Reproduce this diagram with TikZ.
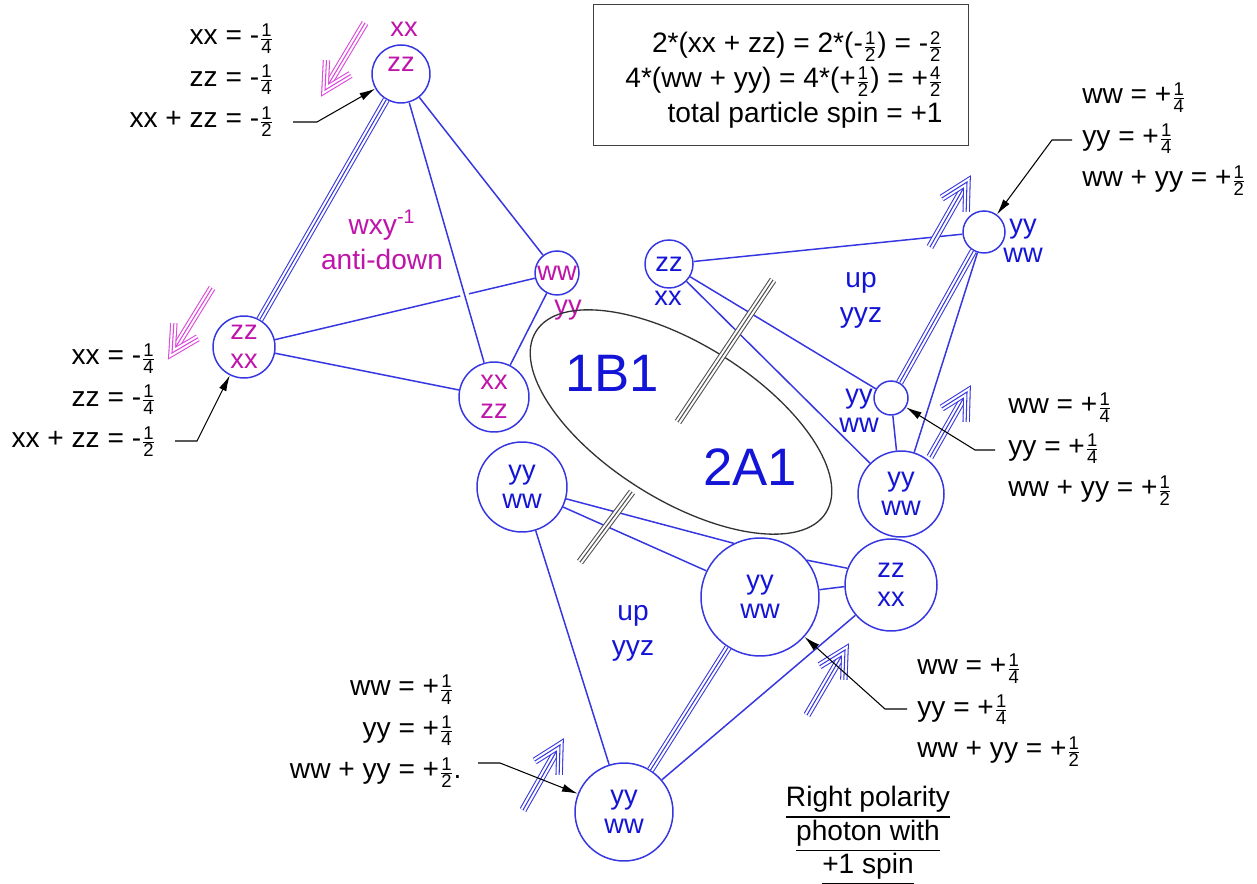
\documentclass[tikz,border=0pt]{standalone}
\usepackage{fontspec}
\setmainfont{Liberation Sans}
\usepackage{amsmath}
\usetikzlibrary{arrows.meta,positioning,calc}

\definecolor{lineblue}{RGB}{55,55,225}
\definecolor{textblue}{RGB}{20,20,215}
\definecolor{magtext}{RGB}{190,20,170}
\definecolor{magarrow}{RGB}{220,70,220}
\definecolor{hatchgray}{RGB}{80,80,80}

\newcommand{\lblfont}{\fontsize{16}{23.5}\selectfont}
\newcommand{\boxfont}{\fontsize{16}{20}\selectfont}
\newcommand{\ringfont}{\fontsize{15.5}{16.5}\selectfont}
\newcommand{\regionfont}{\fontsize{16}{20}\selectfont}
\newcommand{\bigtxtfont}{\fontsize{30}{32}\selectfont}
\newcommand{\fracfont}{\fontsize{10.5}{10.5}\selectfont}
\newcommand{\fr}[2]{{\fontsize{12}{12}\selectfont$\frac{\mbox{\fracfont#1}}{\mbox{\fracfont#2}}$}}

% 三线空心箭头
\newcommand{\spinarrow}[3]{%
  \draw[tri=#1] (#2) -- (#3);
  \draw[tri=#1, line join=miter] ($(#3)!17pt!28:(#2)$) -- (#3) -- ($(#3)!17pt!-28:(#2)$);
}

\begin{document}
\begin{tikzpicture}[
    x=0.02cm, y=-0.02cm,
    >=Stealth,
    every node/.style={font=\lblfont},
    ring/.style={circle, draw=lineblue, line width=0.85pt, inner sep=0pt, align=center, font=\ringfont},
    magtxt/.style={text=magtext, font=\ringfont, align=center, inner sep=0pt},
    bluetxt/.style={text=textblue, font=\ringfont, align=center, inner sep=0pt},
    bigtxt/.style={text=textblue, font=\bigtxtfont, inner sep=0pt},
    lbl/.style={font=\lblfont, inner sep=0pt},
    link/.style={draw=lineblue, line width=0.85pt},
    tri/.style={line width=0.6pt, draw=#1, preaction={draw=#1, line width=4.2pt}, preaction={draw=white, line width=3pt}},
    tri/.default=lineblue,
    callout/.style={draw=black, line width=0.6pt, -{Latex[length=9pt, width=4.5pt]}}
]
\useasboundingbox (0,0) rectangle (1257,884);

% 洋红三角
\node[ring, minimum size=1.16cm] (A) at (401,74) {};
\node[magtxt] (Atop) at (404,29) {xx};
\node[magtxt] (Ain) at (401,64) {zz};
\node[ring, minimum size=1.24cm, text=magtext] (B) at (244,347) {zz\\xx};
\node[ring, minimum size=0.88cm, text=magtext] (C) at (557,273) {ww};
\node[magtxt] (Cbot) at (568,310) {yy};
\node[ring, minimum size=1.40cm, text=magtext] (D) at (494,397) {xx\\zz};
\node[magtxt, font=\regionfont] (wxy) at (382,240) {wxy\textsuperscript{-1}\\anti-down};

% 蓝色两组
\node[ring, minimum size=0.96cm, text=textblue] (E) at (669,264) {zz};
\node[bluetxt] (Ebot) at (668,298) {xx};
\node[ring, minimum size=0.84cm] (F) at (984,232) {};
\node[bluetxt] (Fside) at (1023,241) {yy\\ww};
\node[ring, minimum size=0.68cm] (G) at (891,398) {};
\node[bluetxt] (Gside) at (859,411) {yy\\ww};
\node[ring, minimum size=1.72cm, text=textblue] (H) at (901,494) {yy\\ww};
\node[ring, minimum size=1.84cm, text=textblue] (I) at (891,585) {zz\\xx};
\node[ring, minimum size=2.36cm, text=textblue] (J) at (760,597) {yy\\ww};
\node[ring, minimum size=1.80cm, text=textblue] (K) at (522,487) {yy\\ww};
\node[ring, minimum size=1.96cm, text=textblue] (L) at (624,812) {yy\\ww};
\node[bluetxt, font=\regionfont] (up1) at (861,300) {up\\yyz};
\node[bluetxt, font=\regionfont] (up2) at (633,633) {up\\yyz};

% 中间椭圆
\coordinate (ell) at (681,422);
\draw[black!80, line width=0.75pt, rotate around={-32:(ell)}] (ell) ellipse [x radius=3.42cm, y radius=1.56cm];
\node[bigtxt] (n1B1) at (612,373) {1B1};
\node[bigtxt] (n2A1) at (750,467) {2A1};

% 连线
\draw[link] (B) -- (C);
\draw[link, preaction={draw=white, line width=5pt}] (A) -- (D);
\draw[link] (A) -- (C);
\draw[link] (B) -- (D);
\draw[link] (C) -- (D);
\draw[tri] (A) -- (B);

\draw[link] (E) -- (F);
\draw[link] (E) -- (G);
\draw[link] (E) -- (H);
\draw[link] (G) -- (H);
\draw[link] (F) -- (H);
\draw[tri] (F) -- (G);

\draw[link] (K.-15) -- (J.116);
\draw[link] (K.-26) -- (J.154);
\draw[link] (K) -- (L);
\draw[link] (J.38) -- (I.159);
\draw[link] (J.7) -- (I.182);
\draw[link] (L) -- (I);
\draw[tri] (J) -- (L);

% 截断符号
\coordinate (h1a) at (773,280);
\coordinate (h1b) at (678,422);
\coordinate (h2a) at (632,492);
\coordinate (h2b) at (580,562);
\draw[tri=hatchgray] (h1a) -- (h1b);
\draw[tri=hatchgray] (h2a) -- (h2b);

% 自旋箭头
\coordinate (m1t) at (365,23);  \coordinate (m1h) at (325,90);
\coordinate (m2t) at (212,288); \coordinate (m2h) at (172,353);
\coordinate (b1t) at (930,247); \coordinate (b1h) at (967,182);
\coordinate (b2t) at (930,457); \coordinate (b2h) at (967,392);
\coordinate (b3t) at (807,715); \coordinate (b3h) at (845,650);
\coordinate (b4t) at (523,810); \coordinate (b4h) at (560,745);
\spinarrow{magarrow}{m1t}{m1h}
\spinarrow{magarrow}{m2t}{m2h}
\spinarrow{lineblue}{b1t}{b1h}
\spinarrow{lineblue}{b2t}{b2h}
\spinarrow{lineblue}{b3t}{b3h}
\spinarrow{lineblue}{b4t}{b4h}

% 说明文字
\node[draw=black!75, line width=0.8pt, minimum width=7.5cm, minimum height=2.82cm] (spinbox) at (781,75) {};
\node[align=right, font=\boxfont, inner sep=0pt] (spintext) at (784,80)
  {2*(xx + zz) = 2*(-\fr12) = -\fr22\\
   4*(ww + yy) = 4*(+\fr12) = +\fr42\\
   total particle spin = +1};

\node[lbl, anchor=east, align=right] (lblA) at (274,80) {xx = -\fr14\\zz = -\fr14\\xx + zz = -\fr12};
\node[lbl, anchor=east, align=right] (lblB) at (156,400) {xx = -\fr14\\zz = -\fr14\\xx + zz = -\fr12};
\node[lbl, anchor=west, align=left] (lblF) at (1082,139) {ww = +\fr14\\yy = +\fr14\\ww + yy = +\fr12};
\node[lbl, anchor=west, align=left] (lblG) at (1008,449) {ww = +\fr14\\yy = +\fr14\\ww + yy = +\fr12};
\node[lbl, anchor=west, align=left] (lblJ) at (917,710) {ww = +\fr14\\yy = +\fr14\\ww + yy = +\fr12};
\node[lbl, anchor=east, align=right] (lblL) at (454,731) {ww = +\fr14\\yy = +\fr14\\ww + yy = +\fr12\rlap{.}};

\node[lbl, align=center, font=\fontsize{16}{19}\selectfont] (title) at (868,836)
  {\underline{Right polarity}\\\underline{photon with}\\\underline{+1 spin}};

% 引线
\coordinate (cA) at (293,122);
\coordinate (cB) at (175,441);
\coordinate (cF) at (1072,140);
\coordinate (cG) at (995,450);
\coordinate (cJ) at (907,709);
\coordinate (cL) at (478,763);
\draw[callout] (cA) -- ++(24,0) -- (A);
\draw[callout] (cB) -- ++(22,0) -- (B);
\draw[callout] (cF) -- ++(-20,0) -- (F);
\draw[callout] (cG) -- ++(-20,0) -- (G);
\draw[callout] (cJ) -- ++(-22,0) -- (J);
\draw[callout] (cL) -- ++(22,0) -- (L);

\end{tikzpicture}
\end{document}
